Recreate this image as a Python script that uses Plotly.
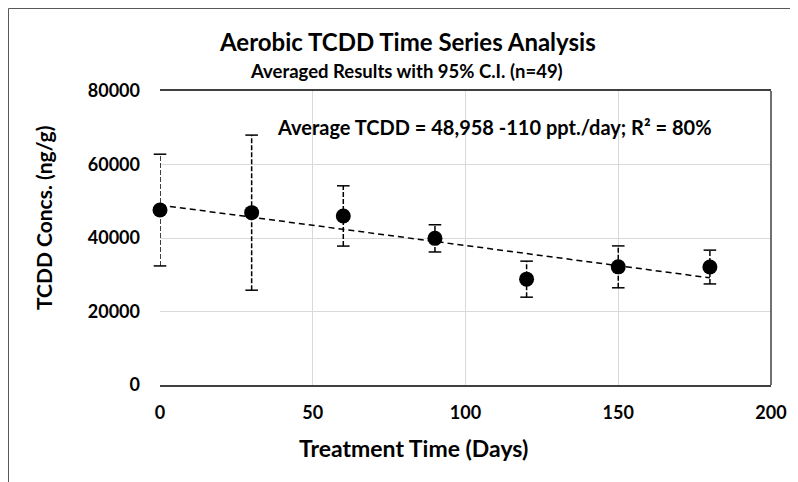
import plotly.graph_objects as go

# ---- data ----
days = [0, 30, 60, 90, 120, 150, 180]
mean_tcdd = [47600, 46900, 46000, 39900, 28800, 32150, 32100]
ci95 = [15200, 21100, 8200, 3700, 4900, 5700, 4600]
trend_intercept = 48958
trend_slope = -110
x_ticks = [0, 50, 100, 150, 200]
y_ticks = [0, 20000, 40000, 60000, 80000]

FONT = "Lato"
OFF = 8  # page body margin offset
W, H = 798 - OFF, 482 - OFF
L, R, T, B = 160 - OFF, 27, 91 - OFF, 97
pw, ph = W - L - R, H - T - B

def px_x(p):
    return (p - OFF - L) / pw

def px_y(p):
    return (H - B - (p - OFF)) / ph

fig = go.Figure()

# error bars (dashed vertical) built from data
ex, ey = [], []
for d, m, c in zip(days, mean_tcdd, ci95):
    ex += [d, d, None]
    ey += [m - c, m + c, None]
fig.add_trace(go.Scatter(x=ex, y=ey, mode="lines",
                         line=dict(color="black", width=1.5, dash="5px,2px"),
                         hoverinfo="skip", cliponaxis=False, showlegend=False))
# caps
cx, cy = [], []
for d, m, c in zip(days, mean_tcdd, ci95):
    cx += [d, d]
    cy += [m - c, m + c]
fig.add_trace(go.Scatter(x=cx, y=cy, mode="markers",
                         marker=dict(symbol="line-ew", size=9,
                                     line=dict(color="black", width=1.5)),
                         hoverinfo="skip", cliponaxis=False, showlegend=False))
# trendline
tx = [days[0], days[-1]]
ty = [trend_intercept + trend_slope * v for v in tx]
fig.add_trace(go.Scatter(x=tx, y=ty, mode="lines",
                         line=dict(color="black", width=1.5, dash="6px,4px"),
                         showlegend=False, cliponaxis=False))
# points
fig.add_trace(go.Scatter(x=days, y=mean_tcdd, mode="markers",
                         marker=dict(color="black", size=15),
                         cliponaxis=False, showlegend=False))

fig.update_xaxes(range=[0, 200], tickvals=x_ticks, tickformat="d",
                 showgrid=True, gridcolor="#d9d9d9", gridwidth=1, zeroline=False,
                 showline=True, linecolor="#404040", linewidth=1.5, mirror=True,
                 ticks="", ticklabelstandoff=11,
                 tickfont=dict(family=FONT, size=18, color="black", weight="bold"))
fig.update_yaxes(range=[0, 80000], tickvals=y_ticks, tickformat="d",
                 showgrid=True, gridcolor="#d9d9d9", gridwidth=1, zeroline=False,
                 showline=False, ticks="", ticklabelstandoff=19,
                 tickfont=dict(family=FONT, size=18, color="black", weight="bold"))

shapes = [
    # right plot border
    dict(type="line", xref="paper", yref="paper", x0=1, x1=1, y0=0, y1=1,
         line=dict(color="#404040", width=1.5)),
    # outer chart border (top and left)
    dict(type="line", xref="paper", yref="paper", x0=px_x(8.5), x1=px_x(810),
         y0=px_y(8.5), y1=px_y(8.5), line=dict(color="#595959", width=1)),
    dict(type="line", xref="paper", yref="paper", x0=px_x(8.5), x1=px_x(8.5),
         y0=px_y(8.5), y1=px_y(500), line=dict(color="#595959", width=1)),
]

annotations = [
    dict(text="<b>Aerobic TCDD Time Series Analysis</b>", x=px_x(407), y=px_y(41),
         xref="paper", yref="paper", showarrow=False, xanchor="center", yanchor="middle",
         font=dict(family=FONT, size=24, color="black")),
    dict(text="<b>Averaged Results with 95% C.I. (n=49)</b>", x=px_x(406), y=px_y(71),
         xref="paper", yref="paper", showarrow=False, xanchor="center", yanchor="middle",
         font=dict(family=FONT, size=18.5, color="black")),
    dict(text="<b>Average TCDD = 48,958 -110 ppt./day; R² = 80%</b>", x=px_x(494), y=px_y(127),
         xref="paper", yref="paper", showarrow=False, xanchor="center", yanchor="middle",
         font=dict(family=FONT, size=20, color="black")),
    dict(text="<b>Treatment Time (Days)</b>", x=px_x(413), y=px_y(448),
         xref="paper", yref="paper", showarrow=False, xanchor="center", yanchor="middle",
         font=dict(family=FONT, size=23, color="black")),
    dict(text="<b>TCDD Concs. (ng/g)</b>", x=px_x(43), y=px_y(218), textangle=-90,
         xref="paper", yref="paper", showarrow=False, xanchor="center", yanchor="middle",
         font=dict(family=FONT, size=21, color="black")),
]

fig.update_layout(width=W, height=H, margin=dict(l=L, r=R, t=T, b=B),
                  paper_bgcolor="white", plot_bgcolor="white",
                  shapes=shapes, annotations=annotations, showlegend=False,
                  font=dict(family=FONT, color="black"))

fig.write_html("out.html")
